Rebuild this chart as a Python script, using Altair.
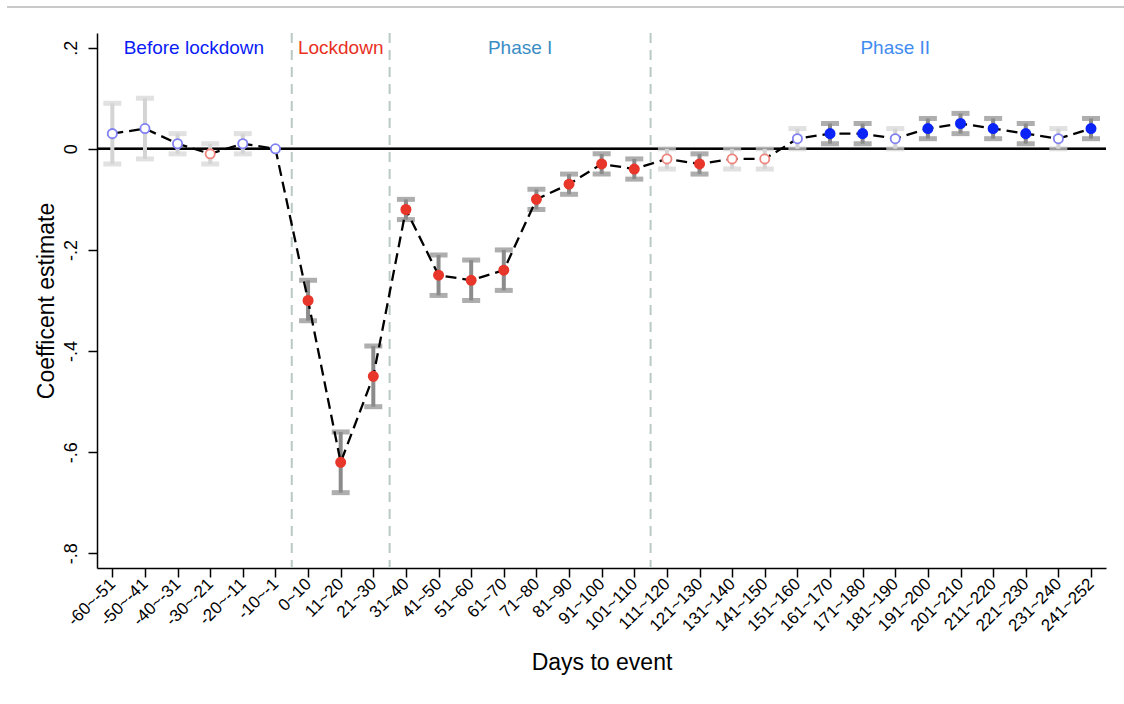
import altair as alt
import pandas as pd

labels = ["-60~-51", "-50~-41", "-40~-31", "-30~-21", "-20~-11", "-10~-1",
          "0~10", "11~20", "21~30", "31~40", "41~50", "51~60", "61~70",
          "71~80", "81~90", "91~100", "101~110", "111~120", "121~130",
          "131~140", "141~150", "151~160", "161~170", "171~180", "181~190",
          "191~200", "201~210", "211~220", "221~230", "231~240", "241~252"]

coef = [0.03, 0.04, 0.01, -0.01, 0.01, 0.0, -0.30, -0.62, -0.45, -0.12,
        -0.25, -0.26, -0.24, -0.10, -0.07, -0.03, -0.04, -0.02, -0.03, -0.02,
        -0.02, 0.02, 0.03, 0.03, 0.02, 0.04, 0.05, 0.04, 0.03, 0.02, 0.04]
lo = [-0.03, -0.02, -0.01, -0.03, -0.01, None, -0.34, -0.68, -0.51, -0.14,
      -0.29, -0.30, -0.28, -0.12, -0.09, -0.05, -0.06, -0.04, -0.05, -0.04,
      -0.04, 0.0, 0.01, 0.01, 0.0, 0.02, 0.03, 0.02, 0.01, 0.0, 0.02]
hi = [0.09, 0.10, 0.03, 0.01, 0.03, None, -0.26, -0.56, -0.39, -0.10,
      -0.21, -0.22, -0.20, -0.08, -0.05, -0.01, -0.02, 0.0, -0.01, 0.0,
      0.0, 0.04, 0.05, 0.05, 0.04, 0.06, 0.07, 0.06, 0.05, 0.04, 0.06]

phase_names = ["Before lockdown", "Lockdown", "Phase I", "Phase II"]
phase_centers = [2.5, 7.0, 12.5, 24.0]
phase_colors = ["#0a1cf5", "#e8301f", "#3b8dc4", "#3f8cf0"]
dividers = [5.5, 8.5, 16.5]

FONT = "Liberation Sans"

kind = []
cikind = []
for c, l, h in zip(coef, lo, hi):
    sig = (l is not None) and (l > 0 or h < 0)
    sign = "pos" if c >= 0 else "neg"
    kind.append(("sig_" if sig else "ns_") + sign)
    cikind.append("sig" if sig else "ns")

df = pd.DataFrame({"idx": list(range(len(labels))), "coef": coef, "lo": lo,
                   "hi": hi, "kind": kind, "ci": cikind})
ph = pd.DataFrame({"name": phase_names, "x": phase_centers, "color": phase_colors})
dv = pd.DataFrame({"x": dividers})

xscale = alt.Scale(domain=[-0.47, 30.46], nice=False, zero=False)
yscale = alt.Scale(domain=[-0.829, 0.229], nice=False, zero=False)

label_arr = "[" + ",".join("'" + s + "'" for s in labels) + "]"

x_axis = alt.Axis(values=list(range(len(labels))),
                  labelExpr=label_arr + "[datum.value]",
                  labelAngle=315, labelAlign="right", labelBaseline="middle",
                  labelPadding=4, labelFontSize=17, labelOverlap=False,
                  title="Days to event", titleFontSize=23,
                  titlePadding=18, grid=False)
y_axis = alt.Axis(values=[-0.8, -0.6, -0.4, -0.2, 0, 0.2],
                  labelExpr="datum.value == 0 ? '0' : (datum.value < 0 ? '-' : '') + '.' + round(abs(datum.value) * 10)",
                  labelAngle=270, labelAlign="center", labelBaseline="bottom",
                  labelPadding=8, labelFontSize=18, labelOverlap=False,
                  title="Coefficent estimate", titleFontSize=23,
                  titlePadding=4, grid=False)


def X(field):
    return alt.X(field, scale=xscale, axis=x_axis)


def Y(field):
    return alt.Y(field, scale=yscale, axis=y_axis)


base = alt.Chart(df)

frame = alt.Chart(ph).mark_rule(color="#c8c8c8", strokeWidth=1.5).encode(
    x=alt.value(-90), x2=alt.value(1027), y=alt.value(-26))

div_layer = alt.Chart(dv).mark_rule(color="#b9c9c4", strokeWidth=2,
                                    strokeDash=[10, 7]).encode(x=X("x:Q"))

zero = alt.Chart(dv).mark_rule(color="black", strokeWidth=2).encode(
    y=alt.Y(datum=0, scale=yscale, axis=y_axis))

ci_color = alt.Color("ci:N", scale=alt.Scale(domain=["ns", "sig"],
                                             range=["#d4d4d4", "#8b8b8b"]),
                     legend=None)

ci = base.mark_rule(strokeWidth=4).encode(
    x=X("idx:Q"), y=Y("lo:Q"), y2="hi:Q", color=ci_color)

cap_lo = base.mark_tick(orient="horizontal", size=18, thickness=5).encode(
    x=X("idx:Q"), y=Y("lo:Q"), color=ci_color)
cap_hi = base.mark_tick(orient="horizontal", size=18, thickness=5).encode(
    x=X("idx:Q"), y=Y("hi:Q"), color=ci_color)

line = base.mark_line(color="black", strokeWidth=2.3, strokeDash=[11, 6]).encode(
    x=X("idx:Q"), y=Y("coef:Q"))

kinds = ["sig_pos", "sig_neg", "ns_pos", "ns_neg"]
pts = base.mark_point(shape="circle", filled=True, size=85, strokeWidth=1.8,
                      opacity=1).encode(
    x=X("idx:Q"), y=Y("coef:Q"),
    fill=alt.Fill("kind:N", scale=alt.Scale(domain=kinds,
                  range=["#0a24f8", "#e8362a", "#ffffff", "#ffffff"]), legend=None),
    stroke=alt.Stroke("kind:N", scale=alt.Scale(domain=kinds,
                      range=["#0a24f8", "#e8362a", "#7f80f2", "#f0857d"]), legend=None))

txt = alt.Chart(ph).mark_text(fontSize=19, font=FONT, baseline="middle",
                              align="center").encode(
    x=X("x:Q"),
    y=alt.Y(datum=0.2, scale=yscale, axis=y_axis),
    color=alt.Color("color:N", scale=None, legend=None),
    text="name:N")

chart = alt.layer(frame, div_layer, zero, ci, cap_lo, cap_hi, line, pts, txt).properties(
    width=1009, height=535,
    autosize=alt.AutoSizeParams(type="none"),
    padding={"left": 97, "top": 33, "right": 18, "bottom": 136},
    background="white",
).resolve_scale(color="independent").configure_view(stroke=None).configure_axis(
    domainColor="black", domainWidth=1.5, tickColor="black", tickWidth=1.5,
    tickSize=9, labelFont=FONT, labelColor="black", titleFont=FONT,
    titleFontWeight="normal", titleColor="black")

chart.save("out.html", embed_options={"renderer": "svg", "actions": False})
